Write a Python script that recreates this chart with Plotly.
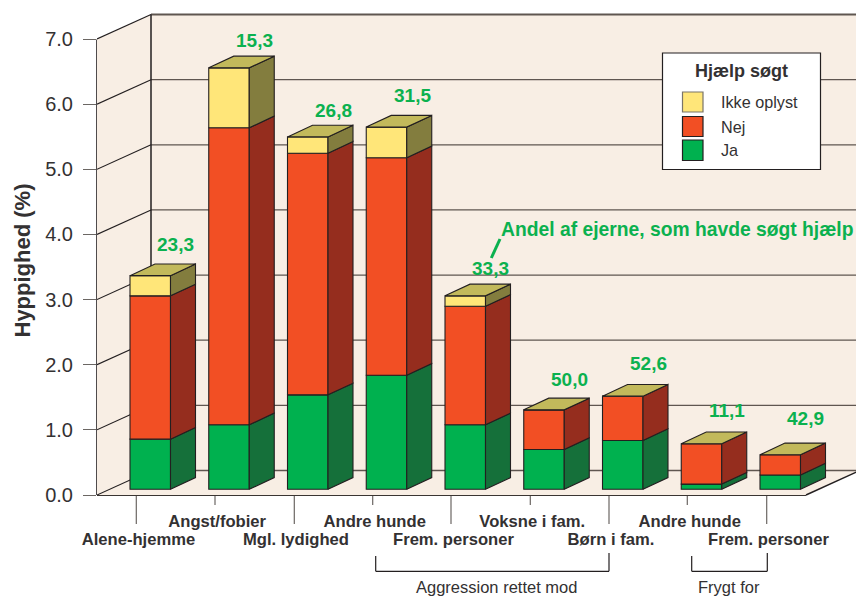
import plotly.graph_objects as go

# ---------- data ----------
categories_row = ["Alene-hjemme", "Angst/fobier", "Mgl. lydighed", "Andre hunde", "Frem. personer",
                  "Voksne i fam.", "Børn i fam.", "Andre hunde", "Frem. personer"]
ja = [0.77, 0.99, 1.45, 1.75, 0.99, 0.61, 0.75, 0.08, 0.22]
nej = [2.20, 4.56, 3.71, 3.34, 1.82, 0.61, 0.68, 0.62, 0.31]
ikke = [0.31, 0.92, 0.25, 0.47, 0.16, 0.0, 0.0, 0.0, 0.0]
share_labels = ["23,3", "15,3", "26,8", "31,5", "33,3", "50,0", "52,6", "11,1", "42,9"]
y_ticks = [0, 1, 2, 3, 4, 5, 6, 7]

# ---------- geometry (axis units) ----------
PX_X, PX_Y = 78.75, 65.14        # pixels per axis unit
X0_PX = 150.25                   # where category 0 sits
ML, MB = 97, 100
PLOT_W, PLOT_H = 856 - ML, 597 - MB
def xp(px): return (px - X0_PX) / PX_X
def yp(px): return (495 - px) / PX_Y
def xf(px): return (px - ML) / PLOT_W      # paper fractions, for what lies outside the plot area
def yf(px): return (PLOT_H - px) / PLOT_H

WALL_L = xp(97)
X_END = xp(856)
FLOOR_R = xp(806)
DEPTH_X, DEPTH_Y = 54 / PX_X, 24.5 / PX_Y
BAR_W = 40.5 / PX_X
BAR_DX, BAR_DY = 25 / PX_X, 11.7 / PX_Y
BASE = 5.7 / PX_Y
TOP = 7.0

label_dx = 25.5 / PX_X
label_gap_px = [19.3, 16, 14.3, 20, 15.8, 19, 21, 22, 25]
tick_len_px = [29, 10, 29, 10, 29, 10, 29, 10, 29]
tick_x_px = [136.3, 215, 294.3, 372.7, 451, 530.3, 609, 687.3, 766.7]

INK = "#231F20"
TXT = "#333132"
WALL = "#F8EEE4"
GRID = "#5F5650"
GREEN_TXT = "#0BB14F"
COL = {"ja": ("#00B14F", "#15703A"), "nej": ("#F24F24", "#952D1E"), "ikke": ("#FFE679", "#837D3E")}
TOPC = "#C2B95B"

fig = go.Figure()

# ---------- walls, floor, grid as shapes below ----------
def poly(pts, fill, lw=0, lc=INK, layer="below"):
    path = "M" + "L".join(f"{x},{y}" for x, y in pts) + "Z"
    fig.add_shape(type="path", path=path, xref="x", yref="y", fillcolor=fill,
                  line=dict(width=lw, color=lc), layer=layer)

def seg(x0, y0, x1, y1, c=INK, w=1.2, layer="below"):
    fig.add_shape(type="line", x0=x0, y0=y0, x1=x1, y1=y1, xref="x", yref="y",
                  line=dict(color=c, width=w), layer=layer)

def pseg(x0, y0, x1, y1, c=INK, w=1.2):
    """Segment given in page pixels, drawn unclipped through paper coordinates."""
    fig.add_shape(type="line", x0=xf(x0), y0=yf(y0), x1=xf(x1), y1=yf(y1), xref="paper", yref="paper",
                  line=dict(color=c, width=w), layer="below")

bx = WALL_L + DEPTH_X
poly([(bx, DEPTH_Y), (X_END, DEPTH_Y), (X_END, TOP + DEPTH_Y), (bx, TOP + DEPTH_Y)], WALL)
poly([(WALL_L, 0), (bx, DEPTH_Y), (bx, TOP + DEPTH_Y), (WALL_L, TOP)], WALL)
poly([(WALL_L, 0), (FLOOR_R, 0), (FLOOR_R + DEPTH_X, DEPTH_Y), (bx, DEPTH_Y)], WALL)
for v in y_ticks[:-1]:
    seg(bx, v + DEPTH_Y, X_END, v + DEPTH_Y, GRID, 1.3)
    seg(WALL_L, v, bx, v + DEPTH_Y, INK, 1.1)
seg(WALL_L, TOP, bx, TOP + DEPTH_Y, INK, 1.2)
seg(bx, TOP + DEPTH_Y, X_END, TOP + DEPTH_Y, GRID, 1.8)
seg(bx, DEPTH_Y, bx, TOP + DEPTH_Y, INK, 1.5)
seg(FLOOR_R, 0, FLOOR_R + DEPTH_X, DEPTH_Y, INK, 1.4)
pseg(97, 495, 97, 39.5, INK, 1.6)
pseg(97, 495, 806, 495, "#3a3532", 2)

# ticks under the floor and the two brackets
for px, ln in zip(tick_x_px, tick_len_px):
    pseg(px, 496, px, 495 + ln, "#6b6663", 1.2)
for x0, x1 in [(375.7, 609), (691.7, 767.3)]:
    pseg(x0, 556, x0, 571.3)
    pseg(x0, 571.3, x1, 571.3)
    pseg(x1, 571.3, x1, 553)

# ---------- bars ----------
xs = list(range(len(ja)))
stack = [("Ja", ja, "ja"), ("Nej", nej, "nej"), ("Ikke oplyst", ikke, "ikke")]
cum = [BASE] * len(xs)
for name, vals, key in stack:
    fig.add_trace(go.Bar(x=xs, y=vals, base=list(cum), name=name, width=BAR_W,
                         marker=dict(color=COL[key][0], line=dict(color=INK, width=1.1)),
                         showlegend=False))
    for i, v in enumerate(vals):
        if v <= 0:
            continue
        r = i + BAR_W / 2
        b, t = cum[i], cum[i] + v
        fig.add_trace(go.Scatter(
            x=[r, r + BAR_DX, r + BAR_DX, r, r],
            y=[b, b + BAR_DY, t + BAR_DY, t, b],
            mode="lines", fill="toself", fillcolor=COL[key][1],
            line=dict(color=INK, width=1.1), showlegend=False, hoverinfo="skip"))
    cum = [c + v for c, v in zip(cum, vals)]

for i, t in enumerate(cum):
    l, r = i - BAR_W / 2, i + BAR_W / 2
    fig.add_trace(go.Scatter(
        x=[l, r, r + BAR_DX, l + BAR_DX, l],
        y=[t, t, t + BAR_DY, t + BAR_DY, t],
        mode="lines", fill="toself", fillcolor=TOPC,
        line=dict(color=INK, width=1.1), showlegend=False, hoverinfo="skip"))

annotations = []
def note(x, y, text, size, color=TXT, bold=False, xanchor="center", angle=0, ref="data"):
    xr, yr = ("x", "y") if ref == "data" else ("paper", "paper")
    annotations.append(dict(x=x, y=y, xref=xr, yref=yr, text=f"<b>{text}</b>" if bold else text,
                            showarrow=False, xanchor=xanchor, yanchor="middle", textangle=angle,
                            font=dict(size=size, color=color, family="Liberation Sans")))

# share labels over bars
for i, t in enumerate(cum):
    note(i + label_dx, t + BAR_DY + label_gap_px[i] / PX_Y, share_labels[i], 19, GREEN_TXT, True)

note(xp(677.5), yp(229), "Andel af ejerne, som havde søgt hjælp", 19.3, GREEN_TXT, True)
note(xf(22), yf(260.5), "Hyppighed (%)", 22, TXT, True, angle=-90, ref="paper")
note(xf(496.5), yf(587), "Aggression rettet mod", 16.5, ref="paper")
note(xf(728.5), yf(587), "Frygt for", 16.5, ref="paper")

# green pointer
fig.add_trace(go.Scatter(x=[xp(500), xp(491.3)], y=[yp(239), yp(258)], mode="lines",
                         line=dict(color=GREEN_TXT, width=3), showlegend=False, hoverinfo="skip"))

# legend box
LX0, LX1, LY0, LY1 = xp(662.5), xp(820.5), yp(169.5), yp(53)
fig.add_shape(type="rect", x0=LX0, x1=LX1, y0=LY0, y1=LY1, xref="x", yref="y",
              fillcolor="white", line=dict(color=INK, width=1.2), layer="above")
legend_rows = [("Ikke oplyst", "ikke", 92, 112), ("Nej", "nej", 116.5, 136.5), ("Ja", "ja", 140, 160.5)]
for name, key, y0, y1 in legend_rows:
    fig.add_shape(type="rect", x0=xp(682.5), x1=xp(703), y0=yp(y1), y1=yp(y0), xref="x", yref="y",
                  fillcolor=COL[key][0], line=dict(color=INK if key != "ikke" else "#7a7468", width=1.2),
                  layer="above")
    note(xp(718.5), yp((y0 + y1) / 2), name, 16.2, TXT, False, "left")
note(xp(741), yp(71), "Hjælp søgt", 18, TXT, True)

LOW = -2 / PX_Y
TICKFONT = dict(size=16.6, color=TXT, family="Liberation Sans", weight="bold")
fig.update_layout(
    width=856, height=597, margin=dict(l=ML, r=0, t=0, b=MB),
    paper_bgcolor="white", plot_bgcolor="white", barmode="overlay", showlegend=False,
    annotations=annotations,
    font=dict(family="Liberation Sans", color=TXT),
    xaxis=dict(range=[WALL_L, X_END], tickmode="array",
               tickvals=[i - 0.15 for i in xs[1::2]], ticktext=categories_row[1::2],
               ticks="", showgrid=False, zeroline=False, showline=False, tickangle=0,
               ticklabeloverflow="allow", ticklabelstandoff=12, tickfont=TICKFONT),
    xaxis2=dict(overlaying="x", matches="x", anchor="y", side="bottom", tickmode="array",
                tickvals=[i - 0.15 for i in xs[0::2]], ticktext=categories_row[0::2],
                ticks="", showgrid=False, zeroline=False, showline=False, tickangle=0,
                ticklabeloverflow="allow", ticklabelstandoff=30, tickfont=TICKFONT),
    yaxis=dict(range=[LOW, 495 / PX_Y], tickmode="array", tickvals=y_ticks, tickformat=".1f",
               ticks="outside", ticklen=13, tickwidth=1.2, tickcolor="#6b6663", ticklabelstandoff=6,
               showgrid=False, zeroline=False, showline=False,
               tickfont=dict(size=20, color=TXT, family="Liberation Sans")),
)
fig.add_trace(go.Scatter(x=[None], y=[None], xaxis="x2", yaxis="y", showlegend=False, hoverinfo="skip"))

fig.write_html("out.html", config={"displayModeBar": False},
               post_script="document.body.style.margin='0';document.body.style.overflow='hidden';")
